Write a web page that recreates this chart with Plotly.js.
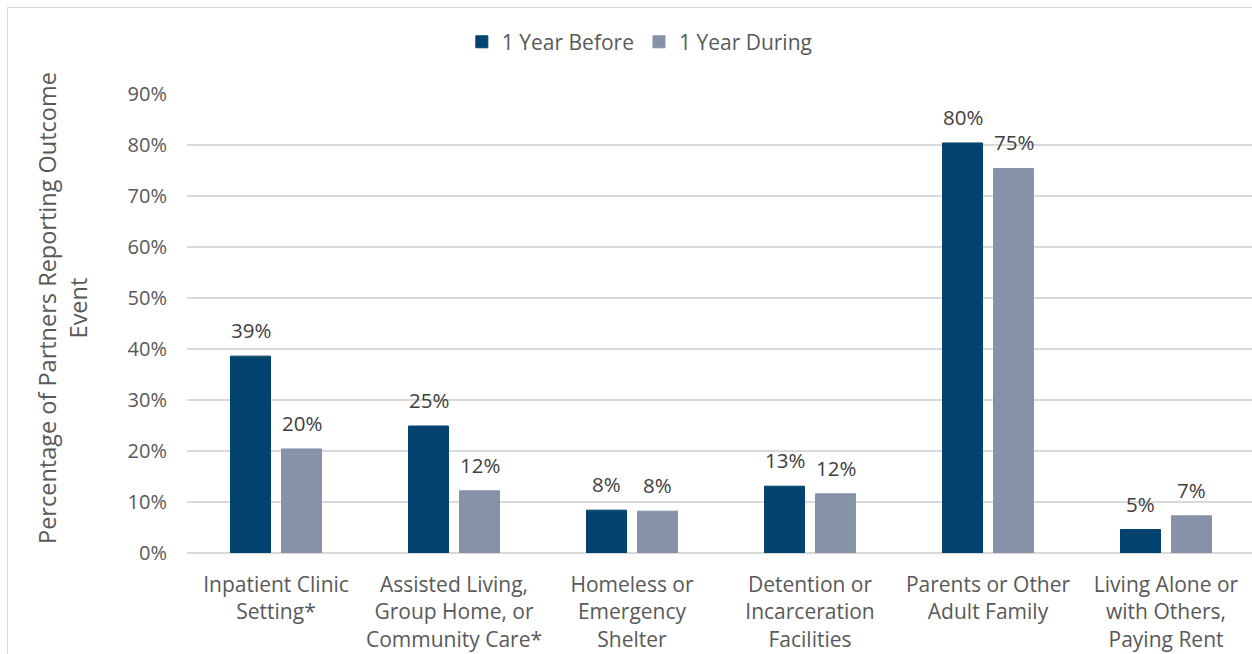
<!DOCTYPE html>
<html>
<head>
<meta charset="utf-8">
<script src="https://cdn.plot.ly/plotly-3.0.1.min.js"></script>
<style>
  html, body { margin: 0; padding: 0; background: #ffffff; overflow: hidden; width: 1252px; height: 654px; }
  #chart { position: absolute; left: 0; top: 0; width: 1280px; height: 700px; }
  #frame { position: absolute; left: 7px; top: 7px; width: 1300px; height: 720px; border: 1px solid #d9d9d9; pointer-events: none; }
</style>
</head>
<body>
<div id="chart"></div>
<div id="frame"></div>
<script>
const categories = [
  "Inpatient Clinic<br>Setting*",
  "Assisted Living,<br>Group Home, or<br>Community Care*",
  "Homeless or<br>Emergency<br>Shelter",
  "Detention or<br>Incarceration<br>Facilities",
  "Parents or Other<br>Adult Family",
  "Living Alone or<br>with Others,<br>Paying Rent"
];
const seriesNames = ["1 Year Before", "1 Year During"];
const yearBefore = [38.6, 24.9, 8.4, 13.1, 80.4, 4.6];
const yearDuring = [20.4, 12.2, 8.2, 11.6, 75.4, 7.3];
const yTickVals = [0, 10, 20, 30, 40, 50, 60, 70, 80, 90];
const yTickText = ["0%", "10%", "20%", "30%", "40%", "50%", "60%", "70%", "80%", "90%"];
const yTitle = "Percentage of Partners Reporting Outcome<br>Event";

const colors = ["#02446F", "#8592A8"];
const FONT = "Open Sans, sans-serif";
const TXT = "#595959";

const traces = [yearBefore, yearDuring].map((vals, k) => ({
  type: "bar",
  name: seriesNames[k],
  x: categories,
  y: vals,
  marker: { color: colors[k], line: { color: colors[k], width: 1 } },
  hoverinfo: "skip"
}));

const annotations = [];
[yearBefore, yearDuring].forEach((vals, k) => {
  vals.forEach((v, i) => {
    annotations.push({
      x: categories[i], y: v, xref: "x", yref: "y",
      xshift: k === 0 ? -25.5 : 25.5, yshift: 10,
      yanchor: "bottom", xanchor: "center",
      text: Math.round(v) + "%", showarrow: false,
      font: { family: FONT, size: 20.5, color: "#404040" }
    });
  });
});
annotations.push({
  xref: "paper", yref: "paper", x: -0.116, y: 0.534,
  xanchor: "center", yanchor: "middle", textangle: -90,
  text: yTitle, showarrow: false,
  font: { family: FONT, size: 23.5, color: TXT }
});

const layout = {
  width: 1280, height: 700,
  margin: { l: 187, r: 25, t: 94, b: 147 },
  paper_bgcolor: "#ffffff", plot_bgcolor: "#ffffff",
  font: { family: FONT, size: 20, color: TXT },
  barmode: "group", bargap: 0.427, bargroupgap: 0.216,
  showlegend: true,
  legend: {
    orientation: "h", x: 0.424, xanchor: "center", y: 1.113, yanchor: "middle",
    font: { family: FONT, size: 21, color: TXT }, bgcolor: "rgba(0,0,0,0)"
  },
  xaxis: {
    type: "category", showgrid: false, zeroline: false, showline: false,
    ticks: "", tickfont: { family: FONT, size: 21, color: TXT },
    ticklabelstandoff: 17, fixedrange: true
  },
  yaxis: {
    range: [0, 90], tickvals: yTickVals, ticktext: yTickText,
    showgrid: true, gridcolor: "#d9d9d9", gridwidth: 1.3,
    zeroline: true, zerolinecolor: "#d9d9d9", zerolinewidth: 1.6,
    showline: false, ticks: "", ticklabelstandoff: 19,
    tickfont: { family: FONT, size: 20, color: TXT }, fixedrange: true
  },
  annotations: annotations
};

Plotly.newPlot("chart", traces, layout, { displayModeBar: false, staticPlot: true });
</script>
</body>
</html>
